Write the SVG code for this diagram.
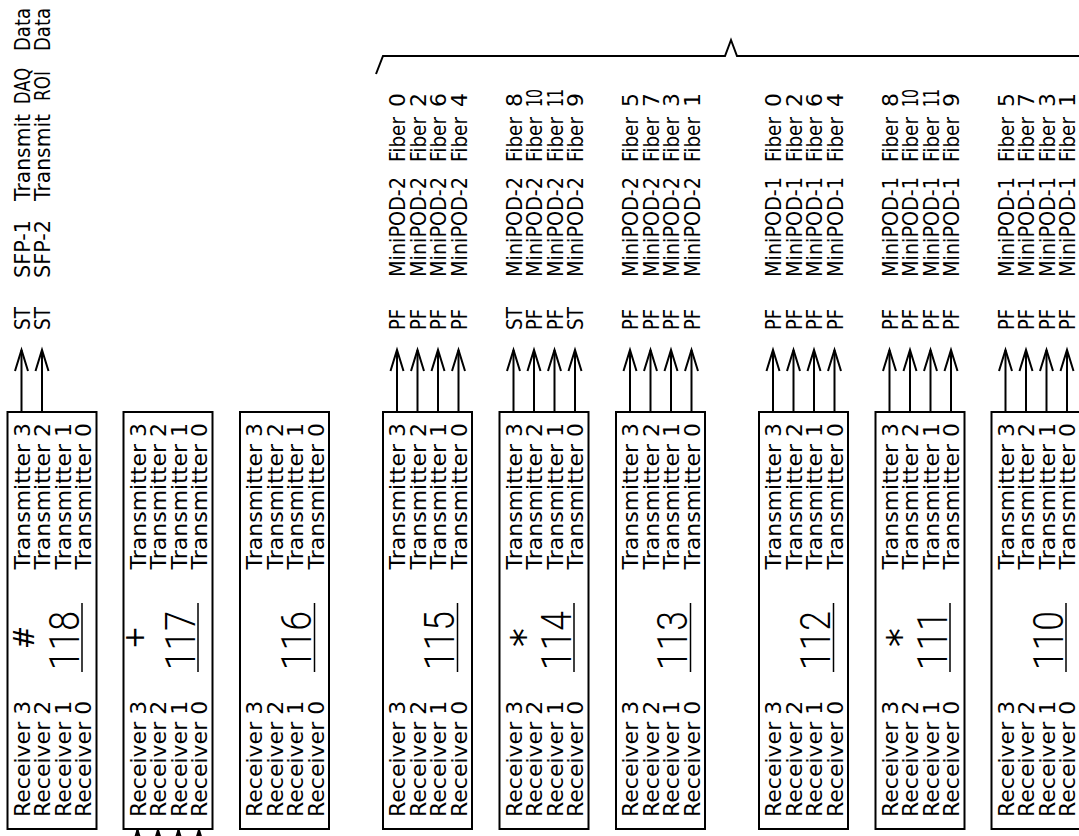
<svg xmlns="http://www.w3.org/2000/svg" width="1079" height="836" viewBox="0 0 1079 836">
<style>
.box{fill:#fff;stroke:#000;stroke-width:2}
.t{font-family:"DejaVu Sans",sans-serif;font-size:22px;fill:#000}
.num{font-family:"Roboto","DejaVu Sans",sans-serif;font-weight:300;font-size:42px;fill:#000}
.sym{font-family:"DejaVu Sans",sans-serif;fill:#000;text-anchor:middle}
.ln{stroke:#000;stroke-width:2;fill:none}
.ul{stroke:#000;stroke-width:1.5}
</style>
<defs>
<marker id="ah" markerUnits="userSpaceOnUse" markerWidth="24" markerHeight="16" refX="21" refY="8" orient="auto" viewBox="0 0 24 16" style="overflow:visible">
<path d="M0,1.5 L21,8 L0,14.5" fill="none" stroke="#000" stroke-width="2"/>
</marker>
</defs>
<rect width="1079" height="836" fill="#fff"/>

<g id="connectors">
<path class="ln" d="M376,74 L383,56 L725,56 L731,40 L737,56 L1079,56"/>
<g class="ln" marker-end="url(#ah)">
<line x1="21.5" y1="412" x2="21.5" y2="350"/>
<line x1="42" y1="412" x2="42" y2="350"/>
<line x1="397" y1="412" x2="397" y2="350"/>
<line x1="417.5" y1="412" x2="417.5" y2="350"/>
<line x1="438" y1="412" x2="438" y2="350"/>
<line x1="458.5" y1="412" x2="458.5" y2="350"/>
<line x1="513.5" y1="412" x2="513.5" y2="350"/>
<line x1="534" y1="412" x2="534" y2="350"/>
<line x1="554.5" y1="412" x2="554.5" y2="350"/>
<line x1="575" y1="412" x2="575" y2="350"/>
<line x1="630" y1="412" x2="630" y2="350"/>
<line x1="650.5" y1="412" x2="650.5" y2="350"/>
<line x1="671" y1="412" x2="671" y2="350"/>
<line x1="691.5" y1="412" x2="691.5" y2="350"/>
<line x1="773" y1="412" x2="773" y2="350"/>
<line x1="793.5" y1="412" x2="793.5" y2="350"/>
<line x1="814" y1="412" x2="814" y2="350"/>
<line x1="834.5" y1="412" x2="834.5" y2="350"/>
<line x1="889.5" y1="412" x2="889.5" y2="350"/>
<line x1="910" y1="412" x2="910" y2="350"/>
<line x1="930.5" y1="412" x2="930.5" y2="350"/>
<line x1="951" y1="412" x2="951" y2="350"/>
<line x1="1005.5" y1="412" x2="1005.5" y2="350"/>
<line x1="1026" y1="412" x2="1026" y2="350"/>
<line x1="1046.5" y1="412" x2="1046.5" y2="350"/>
<line x1="1067" y1="412" x2="1067" y2="350"/>
<line x1="137.5" y1="890" x2="137.5" y2="830"/>
<line x1="158" y1="890" x2="158" y2="830"/>
<line x1="178.5" y1="890" x2="178.5" y2="830"/>
<line x1="199" y1="890" x2="199" y2="830"/>
</g>
</g>

<g id="labels118">
<text class="t" transform="translate(29.5,330) rotate(-90)" textLength="23" lengthAdjust="spacingAndGlyphs">ST</text>
<text class="t" transform="translate(50,330) rotate(-90)" textLength="23" lengthAdjust="spacingAndGlyphs">ST</text>
<text class="t" transform="translate(29.5,278) rotate(-90)" textLength="58" lengthAdjust="spacingAndGlyphs">SFP-1</text>
<text class="t" transform="translate(50,278) rotate(-90)" textLength="58" lengthAdjust="spacingAndGlyphs">SFP-2</text>
<text class="t" transform="translate(29.5,201) rotate(-90)" textLength="87" lengthAdjust="spacingAndGlyphs">Transmit</text>
<text class="t" transform="translate(50,201) rotate(-90)" textLength="87" lengthAdjust="spacingAndGlyphs">Transmit</text>
<text class="t" transform="translate(29.5,104) rotate(-90)" textLength="36" lengthAdjust="spacingAndGlyphs">DAQ</text>
<text class="t" transform="translate(50,101) rotate(-90)" textLength="30" lengthAdjust="spacingAndGlyphs">ROI</text>
<text class="t" transform="translate(29.5,51) rotate(-90)" textLength="43" lengthAdjust="spacingAndGlyphs">Data</text>
<text class="t" transform="translate(50,51) rotate(-90)" textLength="43" lengthAdjust="spacingAndGlyphs">Data</text>
</g>

<g id="labels115">
<text class="t" transform="translate(405,330) rotate(-90)" textLength="21" lengthAdjust="spacingAndGlyphs">PF</text>
<text class="t" transform="translate(425.5,330) rotate(-90)" textLength="21" lengthAdjust="spacingAndGlyphs">PF</text>
<text class="t" transform="translate(446,330) rotate(-90)" textLength="21" lengthAdjust="spacingAndGlyphs">PF</text>
<text class="t" transform="translate(466.5,330) rotate(-90)" textLength="21" lengthAdjust="spacingAndGlyphs">PF</text>
<text class="t" transform="translate(405,277) rotate(-90)" textLength="100" lengthAdjust="spacingAndGlyphs">MiniPOD-2</text>
<text class="t" transform="translate(425.5,277) rotate(-90)" textLength="100" lengthAdjust="spacingAndGlyphs">MiniPOD-2</text>
<text class="t" transform="translate(446,277) rotate(-90)" textLength="100" lengthAdjust="spacingAndGlyphs">MiniPOD-2</text>
<text class="t" transform="translate(466.5,277) rotate(-90)" textLength="100" lengthAdjust="spacingAndGlyphs">MiniPOD-2</text>
<text class="t" transform="translate(405,162) rotate(-90)" textLength="45" lengthAdjust="spacingAndGlyphs">Fiber</text>
<text class="t" transform="translate(425.5,162) rotate(-90)" textLength="45" lengthAdjust="spacingAndGlyphs">Fiber</text>
<text class="t" transform="translate(446,162) rotate(-90)" textLength="45" lengthAdjust="spacingAndGlyphs">Fiber</text>
<text class="t" transform="translate(466.5,162) rotate(-90)" textLength="45" lengthAdjust="spacingAndGlyphs">Fiber</text>
<text class="t" transform="translate(405,107) rotate(-90)">0</text>
<text class="t" transform="translate(425.5,107) rotate(-90)">2</text>
<text class="t" transform="translate(446,107) rotate(-90)">6</text>
<text class="t" transform="translate(466.5,107) rotate(-90)">4</text>
</g>

<g id="labels114">
<text class="t" transform="translate(521.5,330) rotate(-90)" textLength="23" lengthAdjust="spacingAndGlyphs">ST</text>
<text class="t" transform="translate(542,330) rotate(-90)" textLength="21" lengthAdjust="spacingAndGlyphs">PF</text>
<text class="t" transform="translate(562.5,330) rotate(-90)" textLength="21" lengthAdjust="spacingAndGlyphs">PF</text>
<text class="t" transform="translate(583,330) rotate(-90)" textLength="23" lengthAdjust="spacingAndGlyphs">ST</text>
<text class="t" transform="translate(521.5,277) rotate(-90)" textLength="100" lengthAdjust="spacingAndGlyphs">MiniPOD-2</text>
<text class="t" transform="translate(542,277) rotate(-90)" textLength="100" lengthAdjust="spacingAndGlyphs">MiniPOD-2</text>
<text class="t" transform="translate(562.5,277) rotate(-90)" textLength="100" lengthAdjust="spacingAndGlyphs">MiniPOD-2</text>
<text class="t" transform="translate(583,277) rotate(-90)" textLength="100" lengthAdjust="spacingAndGlyphs">MiniPOD-2</text>
<text class="t" transform="translate(521.5,162) rotate(-90)" textLength="45" lengthAdjust="spacingAndGlyphs">Fiber</text>
<text class="t" transform="translate(542,162) rotate(-90)" textLength="45" lengthAdjust="spacingAndGlyphs">Fiber</text>
<text class="t" transform="translate(562.5,162) rotate(-90)" textLength="45" lengthAdjust="spacingAndGlyphs">Fiber</text>
<text class="t" transform="translate(583,162) rotate(-90)" textLength="45" lengthAdjust="spacingAndGlyphs">Fiber</text>
<text class="t" transform="translate(521.5,107) rotate(-90)">8</text>
<text class="t" transform="translate(542,107) rotate(-90)" textLength="18" lengthAdjust="spacingAndGlyphs">10</text>
<text class="t" transform="translate(562.5,107) rotate(-90)" textLength="18" lengthAdjust="spacingAndGlyphs">11</text>
<text class="t" transform="translate(583,107) rotate(-90)">9</text>
</g>

<g id="labels113">
<text class="t" transform="translate(638,330) rotate(-90)" textLength="21" lengthAdjust="spacingAndGlyphs">PF</text>
<text class="t" transform="translate(658.5,330) rotate(-90)" textLength="21" lengthAdjust="spacingAndGlyphs">PF</text>
<text class="t" transform="translate(679,330) rotate(-90)" textLength="21" lengthAdjust="spacingAndGlyphs">PF</text>
<text class="t" transform="translate(699.5,330) rotate(-90)" textLength="21" lengthAdjust="spacingAndGlyphs">PF</text>
<text class="t" transform="translate(638,277) rotate(-90)" textLength="100" lengthAdjust="spacingAndGlyphs">MiniPOD-2</text>
<text class="t" transform="translate(658.5,277) rotate(-90)" textLength="100" lengthAdjust="spacingAndGlyphs">MiniPOD-2</text>
<text class="t" transform="translate(679,277) rotate(-90)" textLength="100" lengthAdjust="spacingAndGlyphs">MiniPOD-2</text>
<text class="t" transform="translate(699.5,277) rotate(-90)" textLength="100" lengthAdjust="spacingAndGlyphs">MiniPOD-2</text>
<text class="t" transform="translate(638,162) rotate(-90)" textLength="45" lengthAdjust="spacingAndGlyphs">Fiber</text>
<text class="t" transform="translate(658.5,162) rotate(-90)" textLength="45" lengthAdjust="spacingAndGlyphs">Fiber</text>
<text class="t" transform="translate(679,162) rotate(-90)" textLength="45" lengthAdjust="spacingAndGlyphs">Fiber</text>
<text class="t" transform="translate(699.5,162) rotate(-90)" textLength="45" lengthAdjust="spacingAndGlyphs">Fiber</text>
<text class="t" transform="translate(638,107) rotate(-90)">5</text>
<text class="t" transform="translate(658.5,107) rotate(-90)">7</text>
<text class="t" transform="translate(679,107) rotate(-90)">3</text>
<text class="t" transform="translate(699.5,107) rotate(-90)">1</text>
</g>

<g id="labels112">
<text class="t" transform="translate(781,330) rotate(-90)" textLength="21" lengthAdjust="spacingAndGlyphs">PF</text>
<text class="t" transform="translate(801.5,330) rotate(-90)" textLength="21" lengthAdjust="spacingAndGlyphs">PF</text>
<text class="t" transform="translate(822,330) rotate(-90)" textLength="21" lengthAdjust="spacingAndGlyphs">PF</text>
<text class="t" transform="translate(842.5,330) rotate(-90)" textLength="21" lengthAdjust="spacingAndGlyphs">PF</text>
<text class="t" transform="translate(781,277) rotate(-90)" textLength="100" lengthAdjust="spacingAndGlyphs">MiniPOD-1</text>
<text class="t" transform="translate(801.5,277) rotate(-90)" textLength="100" lengthAdjust="spacingAndGlyphs">MiniPOD-1</text>
<text class="t" transform="translate(822,277) rotate(-90)" textLength="100" lengthAdjust="spacingAndGlyphs">MiniPOD-1</text>
<text class="t" transform="translate(842.5,277) rotate(-90)" textLength="100" lengthAdjust="spacingAndGlyphs">MiniPOD-1</text>
<text class="t" transform="translate(781,162) rotate(-90)" textLength="45" lengthAdjust="spacingAndGlyphs">Fiber</text>
<text class="t" transform="translate(801.5,162) rotate(-90)" textLength="45" lengthAdjust="spacingAndGlyphs">Fiber</text>
<text class="t" transform="translate(822,162) rotate(-90)" textLength="45" lengthAdjust="spacingAndGlyphs">Fiber</text>
<text class="t" transform="translate(842.5,162) rotate(-90)" textLength="45" lengthAdjust="spacingAndGlyphs">Fiber</text>
<text class="t" transform="translate(781,107) rotate(-90)">0</text>
<text class="t" transform="translate(801.5,107) rotate(-90)">2</text>
<text class="t" transform="translate(822,107) rotate(-90)">6</text>
<text class="t" transform="translate(842.5,107) rotate(-90)">4</text>
</g>

<g id="labels111">
<text class="t" transform="translate(897.5,330) rotate(-90)" textLength="21" lengthAdjust="spacingAndGlyphs">PF</text>
<text class="t" transform="translate(918,330) rotate(-90)" textLength="21" lengthAdjust="spacingAndGlyphs">PF</text>
<text class="t" transform="translate(938.5,330) rotate(-90)" textLength="21" lengthAdjust="spacingAndGlyphs">PF</text>
<text class="t" transform="translate(959,330) rotate(-90)" textLength="21" lengthAdjust="spacingAndGlyphs">PF</text>
<text class="t" transform="translate(897.5,277) rotate(-90)" textLength="100" lengthAdjust="spacingAndGlyphs">MiniPOD-1</text>
<text class="t" transform="translate(918,277) rotate(-90)" textLength="100" lengthAdjust="spacingAndGlyphs">MiniPOD-1</text>
<text class="t" transform="translate(938.5,277) rotate(-90)" textLength="100" lengthAdjust="spacingAndGlyphs">MiniPOD-1</text>
<text class="t" transform="translate(959,277) rotate(-90)" textLength="100" lengthAdjust="spacingAndGlyphs">MiniPOD-1</text>
<text class="t" transform="translate(897.5,162) rotate(-90)" textLength="45" lengthAdjust="spacingAndGlyphs">Fiber</text>
<text class="t" transform="translate(918,162) rotate(-90)" textLength="45" lengthAdjust="spacingAndGlyphs">Fiber</text>
<text class="t" transform="translate(938.5,162) rotate(-90)" textLength="45" lengthAdjust="spacingAndGlyphs">Fiber</text>
<text class="t" transform="translate(959,162) rotate(-90)" textLength="45" lengthAdjust="spacingAndGlyphs">Fiber</text>
<text class="t" transform="translate(897.5,107) rotate(-90)">8</text>
<text class="t" transform="translate(918,107) rotate(-90)" textLength="18" lengthAdjust="spacingAndGlyphs">10</text>
<text class="t" transform="translate(938.5,107) rotate(-90)" textLength="18" lengthAdjust="spacingAndGlyphs">11</text>
<text class="t" transform="translate(959,107) rotate(-90)">9</text>
</g>

<g id="labels110">
<text class="t" transform="translate(1013.5,330) rotate(-90)" textLength="21" lengthAdjust="spacingAndGlyphs">PF</text>
<text class="t" transform="translate(1034,330) rotate(-90)" textLength="21" lengthAdjust="spacingAndGlyphs">PF</text>
<text class="t" transform="translate(1054.5,330) rotate(-90)" textLength="21" lengthAdjust="spacingAndGlyphs">PF</text>
<text class="t" transform="translate(1075,330) rotate(-90)" textLength="21" lengthAdjust="spacingAndGlyphs">PF</text>
<text class="t" transform="translate(1013.5,277) rotate(-90)" textLength="100" lengthAdjust="spacingAndGlyphs">MiniPOD-1</text>
<text class="t" transform="translate(1034,277) rotate(-90)" textLength="100" lengthAdjust="spacingAndGlyphs">MiniPOD-1</text>
<text class="t" transform="translate(1054.5,277) rotate(-90)" textLength="100" lengthAdjust="spacingAndGlyphs">MiniPOD-1</text>
<text class="t" transform="translate(1075,277) rotate(-90)" textLength="100" lengthAdjust="spacingAndGlyphs">MiniPOD-1</text>
<text class="t" transform="translate(1013.5,162) rotate(-90)" textLength="45" lengthAdjust="spacingAndGlyphs">Fiber</text>
<text class="t" transform="translate(1034,162) rotate(-90)" textLength="45" lengthAdjust="spacingAndGlyphs">Fiber</text>
<text class="t" transform="translate(1054.5,162) rotate(-90)" textLength="45" lengthAdjust="spacingAndGlyphs">Fiber</text>
<text class="t" transform="translate(1075,162) rotate(-90)" textLength="45" lengthAdjust="spacingAndGlyphs">Fiber</text>
<text class="t" transform="translate(1013.5,107) rotate(-90)">5</text>
<text class="t" transform="translate(1034,107) rotate(-90)">7</text>
<text class="t" transform="translate(1054.5,107) rotate(-90)">3</text>
<text class="t" transform="translate(1075,107) rotate(-90)">1</text>
</g>

<g id="node118">
<rect class="box" x="7.5" y="412" width="89" height="417"/>
<text class="t" transform="translate(29.5,817) rotate(-90)">Receiver 3</text>
<text class="t" transform="translate(50,817) rotate(-90)">Receiver 2</text>
<text class="t" transform="translate(70.5,817) rotate(-90)">Receiver 1</text>
<text class="t" transform="translate(91,817) rotate(-90)">Receiver 0</text>
<text class="t" transform="translate(29.5,569.5) rotate(-90)">Transmitter 3</text>
<text class="t" transform="translate(50,569.5) rotate(-90)">Transmitter 2</text>
<text class="t" transform="translate(70.5,569.5) rotate(-90)">Transmitter 1</text>
<text class="t" transform="translate(91,569.5) rotate(-90)">Transmitter 0</text>
<text class="num" transform="translate(78.5,670) rotate(-90)" textLength="59" lengthAdjust="spacingAndGlyphs">118</text>
<line class="ul" x1="82" y1="603" x2="82" y2="672"/>
<text class="sym" font-size="28" transform="translate(33.5,637.5) rotate(-90)">#</text>
</g>

<g id="node117">
<rect class="box" x="123.5" y="412" width="89" height="417"/>
<text class="t" transform="translate(145.5,817) rotate(-90)">Receiver 3</text>
<text class="t" transform="translate(166,817) rotate(-90)">Receiver 2</text>
<text class="t" transform="translate(186.5,817) rotate(-90)">Receiver 1</text>
<text class="t" transform="translate(207,817) rotate(-90)">Receiver 0</text>
<text class="t" transform="translate(145.5,569.5) rotate(-90)">Transmitter 3</text>
<text class="t" transform="translate(166,569.5) rotate(-90)">Transmitter 2</text>
<text class="t" transform="translate(186.5,569.5) rotate(-90)">Transmitter 1</text>
<text class="t" transform="translate(207,569.5) rotate(-90)">Transmitter 0</text>
<text class="num" transform="translate(194.5,670) rotate(-90)" textLength="59" lengthAdjust="spacingAndGlyphs">117</text>
<line class="ul" x1="198" y1="603" x2="198" y2="672"/>
<text class="sym" font-size="28" transform="translate(144,637.5) rotate(-90)">+</text>
</g>

<g id="node116">
<rect class="box" x="240" y="412" width="89" height="417"/>
<text class="t" transform="translate(262,817) rotate(-90)">Receiver 3</text>
<text class="t" transform="translate(282.5,817) rotate(-90)">Receiver 2</text>
<text class="t" transform="translate(303,817) rotate(-90)">Receiver 1</text>
<text class="t" transform="translate(323.5,817) rotate(-90)">Receiver 0</text>
<text class="t" transform="translate(262,569.5) rotate(-90)">Transmitter 3</text>
<text class="t" transform="translate(282.5,569.5) rotate(-90)">Transmitter 2</text>
<text class="t" transform="translate(303,569.5) rotate(-90)">Transmitter 1</text>
<text class="t" transform="translate(323.5,569.5) rotate(-90)">Transmitter 0</text>
<text class="num" transform="translate(311,670) rotate(-90)" textLength="59" lengthAdjust="spacingAndGlyphs">116</text>
<line class="ul" x1="314.5" y1="603" x2="314.5" y2="672"/>
</g>

<g id="node115">
<rect class="box" x="383" y="412" width="89" height="417"/>
<text class="t" transform="translate(405,817) rotate(-90)">Receiver 3</text>
<text class="t" transform="translate(425.5,817) rotate(-90)">Receiver 2</text>
<text class="t" transform="translate(446,817) rotate(-90)">Receiver 1</text>
<text class="t" transform="translate(466.5,817) rotate(-90)">Receiver 0</text>
<text class="t" transform="translate(405,569.5) rotate(-90)">Transmitter 3</text>
<text class="t" transform="translate(425.5,569.5) rotate(-90)">Transmitter 2</text>
<text class="t" transform="translate(446,569.5) rotate(-90)">Transmitter 1</text>
<text class="t" transform="translate(466.5,569.5) rotate(-90)">Transmitter 0</text>
<text class="num" transform="translate(454,670) rotate(-90)" textLength="59" lengthAdjust="spacingAndGlyphs">115</text>
<line class="ul" x1="457.5" y1="603" x2="457.5" y2="672"/>
</g>

<g id="node114">
<rect class="box" x="499.5" y="412" width="89" height="417"/>
<text class="t" transform="translate(521.5,817) rotate(-90)">Receiver 3</text>
<text class="t" transform="translate(542,817) rotate(-90)">Receiver 2</text>
<text class="t" transform="translate(562.5,817) rotate(-90)">Receiver 1</text>
<text class="t" transform="translate(583,817) rotate(-90)">Receiver 0</text>
<text class="t" transform="translate(521.5,569.5) rotate(-90)">Transmitter 3</text>
<text class="t" transform="translate(542,569.5) rotate(-90)">Transmitter 2</text>
<text class="t" transform="translate(562.5,569.5) rotate(-90)">Transmitter 1</text>
<text class="t" transform="translate(583,569.5) rotate(-90)">Transmitter 0</text>
<text class="num" transform="translate(570.5,670) rotate(-90)" textLength="59" lengthAdjust="spacingAndGlyphs">114</text>
<line class="ul" x1="574" y1="603" x2="574" y2="672"/>
<text class="sym" font-size="38" transform="translate(537.5,637.5) rotate(-90)">*</text>
</g>

<g id="node113">
<rect class="box" x="616" y="412" width="89" height="417"/>
<text class="t" transform="translate(638,817) rotate(-90)">Receiver 3</text>
<text class="t" transform="translate(658.5,817) rotate(-90)">Receiver 2</text>
<text class="t" transform="translate(679,817) rotate(-90)">Receiver 1</text>
<text class="t" transform="translate(699.5,817) rotate(-90)">Receiver 0</text>
<text class="t" transform="translate(638,569.5) rotate(-90)">Transmitter 3</text>
<text class="t" transform="translate(658.5,569.5) rotate(-90)">Transmitter 2</text>
<text class="t" transform="translate(679,569.5) rotate(-90)">Transmitter 1</text>
<text class="t" transform="translate(699.5,569.5) rotate(-90)">Transmitter 0</text>
<text class="num" transform="translate(687,670) rotate(-90)" textLength="59" lengthAdjust="spacingAndGlyphs">113</text>
<line class="ul" x1="690.5" y1="603" x2="690.5" y2="672"/>
</g>

<g id="node112">
<rect class="box" x="759" y="412" width="89" height="417"/>
<text class="t" transform="translate(781,817) rotate(-90)">Receiver 3</text>
<text class="t" transform="translate(801.5,817) rotate(-90)">Receiver 2</text>
<text class="t" transform="translate(822,817) rotate(-90)">Receiver 1</text>
<text class="t" transform="translate(842.5,817) rotate(-90)">Receiver 0</text>
<text class="t" transform="translate(781,569.5) rotate(-90)">Transmitter 3</text>
<text class="t" transform="translate(801.5,569.5) rotate(-90)">Transmitter 2</text>
<text class="t" transform="translate(822,569.5) rotate(-90)">Transmitter 1</text>
<text class="t" transform="translate(842.5,569.5) rotate(-90)">Transmitter 0</text>
<text class="num" transform="translate(830,670) rotate(-90)" textLength="59" lengthAdjust="spacingAndGlyphs">112</text>
<line class="ul" x1="833.5" y1="603" x2="833.5" y2="672"/>
</g>

<g id="node111">
<rect class="box" x="875.5" y="412" width="89" height="417"/>
<text class="t" transform="translate(897.5,817) rotate(-90)">Receiver 3</text>
<text class="t" transform="translate(918,817) rotate(-90)">Receiver 2</text>
<text class="t" transform="translate(938.5,817) rotate(-90)">Receiver 1</text>
<text class="t" transform="translate(959,817) rotate(-90)">Receiver 0</text>
<text class="t" transform="translate(897.5,569.5) rotate(-90)">Transmitter 3</text>
<text class="t" transform="translate(918,569.5) rotate(-90)">Transmitter 2</text>
<text class="t" transform="translate(938.5,569.5) rotate(-90)">Transmitter 1</text>
<text class="t" transform="translate(959,569.5) rotate(-90)">Transmitter 0</text>
<text class="num" transform="translate(946.5,670) rotate(-90)" textLength="59" lengthAdjust="spacingAndGlyphs">111</text>
<line class="ul" x1="950" y1="603" x2="950" y2="672"/>
<text class="sym" font-size="38" transform="translate(913.5,637.5) rotate(-90)">*</text>
</g>

<g id="node110">
<rect class="box" x="991.5" y="412" width="89" height="417"/>
<text class="t" transform="translate(1013.5,817) rotate(-90)">Receiver 3</text>
<text class="t" transform="translate(1034,817) rotate(-90)">Receiver 2</text>
<text class="t" transform="translate(1054.5,817) rotate(-90)">Receiver 1</text>
<text class="t" transform="translate(1075,817) rotate(-90)">Receiver 0</text>
<text class="t" transform="translate(1013.5,569.5) rotate(-90)">Transmitter 3</text>
<text class="t" transform="translate(1034,569.5) rotate(-90)">Transmitter 2</text>
<text class="t" transform="translate(1054.5,569.5) rotate(-90)">Transmitter 1</text>
<text class="t" transform="translate(1075,569.5) rotate(-90)">Transmitter 0</text>
<text class="num" transform="translate(1062.5,670) rotate(-90)" textLength="59" lengthAdjust="spacingAndGlyphs">110</text>
<line class="ul" x1="1066" y1="603" x2="1066" y2="672"/>
</g>
</svg>
